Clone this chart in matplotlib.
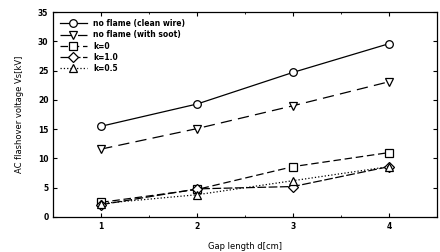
import matplotlib
matplotlib.use("Agg")
import matplotlib.pyplot as plt
from matplotlib.ticker import MultipleLocator

gap = [1, 2, 3, 4]
clean_wire = [15.5, 19.3, 24.7, 29.6]
with_soot = [11.6, 15.1, 19.0, 23.1]
k_0 = [2.5, 4.7, 8.6, 11.0]
k_10 = [2.1, 4.8, 5.2, 8.6]
k_05 = [2.3, 3.8, 6.2, 8.6]

plt.rcParams["font.family"] = "DejaVu Sans"
plt.rcParams["font.weight"] = "bold"

fig = plt.figure(figsize=(4.4, 2.52), dpi=100)
ax = fig.add_axes([0.121, 0.139, 0.872, 0.813])

mk = dict(color="black", markerfacecolor="white", markeredgecolor="black",
          markersize=5.5, markeredgewidth=0.9, linewidth=0.9)
ax.plot(gap, clean_wire, "-", marker="o", label="no flame (clean wire)", **mk)
ax.plot(gap, with_soot, marker="v", dashes=(9, 5), label="no flame (with soot)", **mk)
ax.plot(gap, k_0, marker="s", dashes=(6, 3), label="k=0", **mk)
ax.plot(gap, k_10, marker="D", dashes=(7, 2), label="k=1.0", **{**mk, "markersize": 5})
ax.plot(gap, k_05, marker="^", linestyle=":", label="k=0.5", **mk)

ax.set_xlim(0.5, 4.5)
ax.set_ylim(0, 35)
ax.set_xticks(gap)
ax.xaxis.set_minor_locator(MultipleLocator(0.5))
ax.yaxis.set_major_locator(MultipleLocator(5))
ax.tick_params(direction="in", which="both", top=True, right=True, labelsize=5.5, length=3)
ax.tick_params(which="minor", length=1.5)
for s in ax.spines.values():
    s.set_linewidth(0.9)

ax.set_xlabel("Gap length d[cm]", fontsize=6, labelpad=8)
ax.set_ylabel("AC flashover voltage Vs[kV]", fontsize=6, labelpad=10)

ax.legend(loc="upper left", frameon=False, fontsize=5.5, handlelength=3.5,
          borderaxespad=0.5, labelspacing=0.3, handletextpad=0.8)

plt.savefig("out.png", dpi=100)
